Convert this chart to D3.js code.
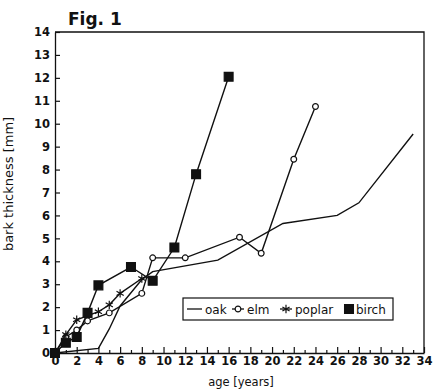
<!DOCTYPE html>
<html>
<head>
<meta charset="utf-8">
<script src="https://cdn.jsdelivr.net/npm/d3@7"></script>
<style>
  body { margin: 0; background: #fff; }
  svg { display: block; }
  text { font-family: "DejaVu Sans", sans-serif; fill: #111; }
  .tick text { font-weight: bold; font-size: 11.5px; }
</style>
</head>
<body>
<svg id="chart" width="436" height="391"></svg>
<script>
// ---- data ----
const oakAge    = [0, 4, 5, 6, 8, 9, 15, 21, 26, 28, 33];
const oakBark   = [0, 0.2, 1.05, 2.05, 3.2, 3.55, 4.05, 5.65, 6.0, 6.55, 9.55];
const elmAge    = [0, 1, 2, 3, 5, 8, 9, 12, 17, 19, 22, 24];
const elmBark   = [0, 0.7, 1.0, 1.4, 1.75, 2.6, 4.15, 4.15, 5.05, 4.35, 8.45, 10.75];
const poplarAge  = [0, 1, 2, 4, 5, 6, 8];
const poplarBark = [0, 0.8, 1.45, 1.8, 2.1, 2.6, 3.25];
const birchAge  = [0, 1, 2, 3, 4, 7, 9, 11, 13, 16];
const birchBark = [0, 0.45, 0.7, 1.75, 2.95, 3.75, 3.15, 4.6, 7.8, 12.05];
const seriesNames = ["oak", "elm", "poplar", "birch"];
const xTicks = d3.range(0, 35);
const yTicks = d3.range(0, 15);

const svg = d3.select("#chart");
const x = d3.scaleLinear().domain([0, 34]).range([55, 424]);
const y = d3.scaleLinear().domain([0, 14]).range([353, 32]);

// frame (top + right)
svg.append("path")
    .attr("d", `M${x(0)},${y(14)}H${x(34)}V${y(0)}`)
    .attr("fill", "none").attr("stroke", "#111").attr("stroke-width", 1.3);

// axes, ticks point inward
const xAxis = svg.append("g")
    .attr("transform", `translate(0,${y(0)})`)
    .call(d3.axisBottom(x).tickValues(xTicks)
        .tickFormat(d => d % 2 ? "" : d)
        .tickSizeInner(-5).tickSizeOuter(0).tickPadding(4));
xAxis.selectAll(".tick line").attr("y2", d => d % 2 ? -3 : -6);

const yAxis = svg.append("g")
    .attr("transform", `translate(${x(0)},0)`)
    .call(d3.axisLeft(y).tickValues(yTicks)
        .tickSizeInner(-5).tickSizeOuter(0).tickPadding(5));

svg.selectAll(".domain").attr("stroke", "#111").attr("stroke-width", 1.3);
svg.selectAll(".tick line").attr("stroke", "#111").attr("stroke-width", 1.2);

// titles
svg.append("text").attr("x", 68).attr("y", 25)
    .attr("font-size", 17).attr("font-weight", "bold").text("Fig. 1");
svg.append("text").attr("x", 241).attr("y", 386)
    .attr("text-anchor", "middle").attr("font-size", 11.5).text("age [years]");
svg.append("text")
    .attr("transform", `translate(13,184) rotate(-90)`)
    .attr("text-anchor", "middle").attr("font-size", 13).text("bark thickness [mm]");

// ---- series ----
const line = d3.line().x(d => x(d[0])).y(d => y(d[1]));
const zip = (a, b) => a.map((v, i) => [v, b[i]]);
const series = [
    {name: "oak",    pts: zip(oakAge, oakBark),       sym: null},
    {name: "elm",    pts: zip(elmAge, elmBark),       sym: d3.symbol(d3.symbolCircle, 26), fill: "#fff"},
    {name: "poplar", pts: zip(poplarAge, poplarBark), sym: d3.symbol(d3.symbolAsterisk, 48), fill: "none"},
    {name: "birch",  pts: zip(birchAge, birchBark),   sym: d3.symbol(d3.symbolSquare, 78), fill: "#111"}
];

series.forEach(s => {
    const g = svg.append("g");
    g.append("path")
        .attr("d", line(s.pts))
        .attr("fill", "none").attr("stroke", "#111").attr("stroke-width", 1.4);
    if (s.sym)
        g.selectAll("path.m").data(s.pts).join("path")
            .attr("class", "m")
            .attr("transform", d => `translate(${x(d[0])},${y(d[1])})`)
            .attr("d", s.sym)
            .attr("fill", s.fill).attr("stroke", "#111").attr("stroke-width", 1.2);
});

// ---- legend ----
const leg = svg.append("g").attr("transform", "translate(183,298)");
leg.append("rect").attr("width", 210).attr("height", 22)
    .attr("fill", "#fff").attr("stroke", "#111").attr("stroke-width", 1.2);
const legX = [4, 49, 97, 162];
const legW = [15, 12, 12, 8];
series.forEach((s, i) => {
    const g = leg.append("g").attr("transform", `translate(${legX[i]},11)`);
    g.append("line").attr("x1", 0).attr("x2", legW[i])
        .attr("stroke", "#111").attr("stroke-width", 1.3);
    if (s.sym)
        g.append("path").attr("transform", `translate(${legW[i] / 2},0)`)
            .attr("d", s.sym).attr("fill", s.fill)
            .attr("stroke", "#111").attr("stroke-width", 1.2);
    g.append("text").attr("x", legW[i] + 3).attr("y", 4.5)
        .attr("font-size", 12).text(seriesNames[i]);
});
</script>
</body>
</html>
